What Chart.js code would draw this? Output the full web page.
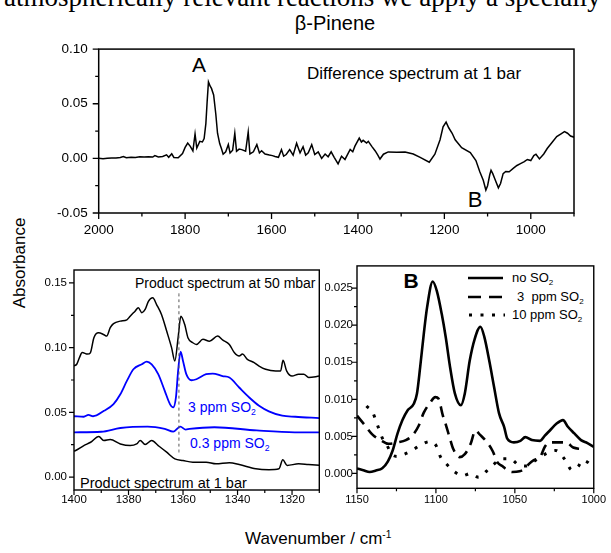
<!DOCTYPE html>
<html>
<head>
<meta charset="utf-8">
<script src="https://cdn.jsdelivr.net/npm/chart.js@4.4.1/dist/chart.umd.min.js"></script>
<style>
  html, body { margin: 0; padding: 0; background: #fff; }
  body { position: relative; width: 611px; height: 553px; overflow: hidden;
         font-family: "Liberation Sans", Arial, sans-serif; color: #000; }
  .lbl { position: absolute; white-space: nowrap; line-height: 1; }
  .c { transform: translate(-50%, -50%); }
  .l { transform: translateY(-50%); }
  .sub { font-size: 0.62em; position: relative; top: 0.38em; }
  .sup { font-size: 0.6em; position: relative; top: -0.6em; }
  .blue { color: #0000ff; }
  canvas { position: absolute; }
</style>
</head>
<body>
<div class="lbl" style="left:4px; top:-16px; font-family:'Liberation Serif',serif; font-size:27px; line-height:27px;">atmospherically relevant reactions we apply a specially</div>
<div class="lbl c" style="left:335px; top:23px; font-size:20px;">β-Pinene</div>
<div class="lbl c" style="left:199px; top:64px; font-size:21px;">A</div>
<div class="lbl l" style="left:307px; top:73px; font-size:17px;">Difference spectrum at 1 bar</div>
<div class="lbl c" style="left:475px; top:200px; font-size:22px;">B</div>

<div class="lbl c" style="left:19px; top:263px; font-size:17px; transform:translate(-50%,-50%) rotate(-90deg);">Absorbance</div>
<div class="lbl l" style="left:245px; top:538px; font-size:17px;">Wavenumber / cm<span class="sup">-1</span></div>

<div class="lbl l" style="left:135px; top:283px; font-size:14px;">Product spectrum at 50 mbar</div>
<div class="lbl l" style="left:80px; top:483px; font-size:14.5px;">Product spectrum at 1 bar</div>
<div class="lbl l blue" style="left:188px; top:407px; font-size:14px;">3 ppm SO<span class="sub">2</span></div>
<div class="lbl l blue" style="left:190px; top:443px; font-size:14px;">0.3 ppm SO<span class="sub">2</span></div>

<div class="lbl c" style="left:411px; top:280px; font-size:21px; font-weight:bold;">B</div>
<div class="lbl l" style="left:512px; top:278px; font-size:13px;">no SO<span class="sub">2</span></div>
<div class="lbl l" style="left:517px; top:297px; font-size:13px;">3&nbsp; ppm SO<span class="sub">2</span></div>
<div class="lbl l" style="left:512px; top:315px; font-size:13px;">10 ppm SO<span class="sub">2</span></div>

<canvas id="topChart" width="611" height="215" style="left:0; top:30px;"></canvas>
<canvas id="leftChart" width="330" height="265" style="left:0; top:255px;"></canvas>
<canvas id="rightChart" width="286" height="265" style="left:325px; top:255px;"></canvas>

<script>
// ---- top panel: difference spectrum at 1 bar ----
const diffWn = [2000, 1990, 1980, 1970, 1960, 1950, 1943, 1936, 1925, 1915, 1905, 1895, 1885, 1875, 1870, 1862,
  1852, 1843, 1838, 1831, 1826, 1816, 1806, 1800, 1794, 1788, 1782, 1777, 1773, 1766, 1760, 1756, 1752, 1749,
  1746, 1742, 1739, 1734, 1729, 1725, 1720, 1716, 1712, 1706, 1700, 1696, 1690, 1685, 1681, 1675, 1669, 1660,
  1654, 1650, 1642, 1634, 1628, 1623, 1615, 1605, 1598, 1592, 1584, 1577, 1572, 1566, 1558, 1550, 1542, 1534,
  1527, 1521, 1515, 1507, 1500, 1492, 1484, 1476, 1469, 1462, 1455, 1446, 1438, 1430, 1418, 1412, 1407, 1397,
  1392, 1388, 1380, 1376, 1368, 1360, 1354, 1349, 1341, 1330, 1310, 1291, 1272, 1256, 1235, 1222, 1210, 1203,
  1196, 1190, 1182, 1175, 1160, 1140, 1127, 1118, 1110, 1104, 1100, 1095, 1092, 1088, 1082, 1075, 1070, 1064,
  1058, 1050, 1040, 1032, 1025, 1015, 1008, 1000, 993, 988, 980, 970, 962, 950, 940, 930, 922, 915, 908, 900];
const diffAbs = [0.0000, -0.0003, 0.0002, 0.0004, 0.0003, 0.0008, 0.0016, 0.0005, 0.0010, 0.0008, 0.0014, 0.0012,
  0.0015, 0.0012, 0.0025, 0.0012, 0.0018, 0.0032, 0.0010, 0.0042, 0.0008, 0.0005, 0.0045, 0.0100, 0.0140, 0.0110,
  0.0068, 0.0223, 0.0095, 0.0156, 0.0150, 0.0182, 0.0318, 0.0520, 0.0700, 0.0660, 0.0640, 0.0580, 0.0406, 0.0230,
  0.0135, 0.0090, 0.0038, 0.0060, 0.0126, 0.0050, 0.0075, 0.0230, 0.0065, 0.0085, 0.0080, 0.0065, 0.0240, 0.0040,
  0.0060, 0.0126, 0.0050, 0.0070, 0.0040, 0.0030, 0.0025, 0.0017, 0.0010, 0.0080, 0.0020, 0.0035, 0.0080, 0.0030,
  0.0138, 0.0050, 0.0106, 0.0030, 0.0050, 0.0126, 0.0035, 0.0060, 0.0000, 0.0040, 0.0015, 0.0060, 0.0010, -0.0050,
  0.0020, -0.0010, 0.0082, 0.0060, 0.0112, 0.0185, 0.0150, 0.0165, 0.0140, 0.0156, 0.0110, 0.0068, 0.0030, -0.0006,
  0.0038, 0.0059, 0.0055, 0.0059, 0.0040, 0.0009, -0.0035, 0.0038, 0.0170, 0.0288, 0.0332, 0.0280, 0.0230, 0.0170,
  0.0097, 0.0053, -0.0020, -0.0123, -0.0200, -0.0290, -0.0250, -0.0150, -0.0109, -0.0140, -0.0200, -0.0270,
  -0.0230, -0.0140, -0.0120, -0.0123, -0.0090, -0.0065, -0.0050, -0.0030, -0.0010, -0.0020, 0.0025, 0.0038,
  -0.0005, 0.0040, 0.0090, 0.0150, 0.0200, 0.0225, 0.0244, 0.0230, 0.0205, 0.0194];
const topXMajor = [2000, 1800, 1600, 1400, 1200, 1000];
const topXMinor = [1900, 1700, 1500, 1300, 1100, 900];
const topYMajor = [-0.05, 0.00, 0.05, 0.10];
const topYMinor = [-0.025, 0.025, 0.075];

// ---- bottom left: product spectra, 1400-1310 cm-1 ----
const mbarWn = [1400, 1399, 1398, 1397, 1395, 1394, 1392.7, 1391, 1389, 1388, 1386.7, 1385.5, 1383, 1380.6, 1379.4,
  1377.6, 1376.4, 1375.1, 1373.9, 1372.7, 1371.1, 1369.7, 1367.9, 1366, 1364.2, 1363, 1361.8, 1360.8, 1359.4,
  1358.2, 1356.4, 1355.1, 1352.7, 1350.3, 1347.3, 1345.5, 1343, 1341.2, 1339.4, 1338.2, 1336.4, 1333.9, 1332.1,
  1329.7, 1326, 1324.2, 1323.3, 1322, 1320, 1317.6, 1315.7, 1313.9, 1310];
const mbarAbs = [0.0860, 0.0872, 0.0923, 0.0962, 0.0950, 0.0960, 0.1077, 0.1115, 0.1100, 0.1090, 0.1154, 0.1185,
  0.1205, 0.1215, 0.1243, 0.1282, 0.1308, 0.1270, 0.1295, 0.1358, 0.1385, 0.1333, 0.1256, 0.1128, 0.1000, 0.0897,
  0.1077, 0.1243, 0.1180, 0.1077, 0.1038, 0.1025, 0.1064, 0.1050, 0.1090, 0.1060, 0.1025, 0.0962, 0.0935, 0.0950,
  0.0910, 0.0885, 0.0858, 0.0833, 0.0820, 0.0820, 0.0902, 0.0820, 0.0780, 0.0795, 0.0795, 0.0770, 0.0780];
const so3Wn = [1400, 1396.4, 1394.7, 1393, 1389, 1385.5, 1383, 1380.6, 1378.2, 1375.1, 1373.3, 1371.5, 1369.1,
  1366.7, 1364.8, 1363.6, 1362.6, 1361.8, 1360.9, 1360, 1358.8, 1356.9, 1355.1, 1351.5, 1349.1, 1345.5, 1343,
  1339.4, 1335.7, 1332.1, 1328.5, 1323.6, 1318.8, 1310];
const so3Abs = [0.0470, 0.0466, 0.0480, 0.0470, 0.0512, 0.0564, 0.0640, 0.0743, 0.0833, 0.0872, 0.0892, 0.0870,
  0.0795, 0.0666, 0.0564, 0.0538, 0.0615, 0.0820, 0.0969, 0.0897, 0.0795, 0.0748, 0.0756, 0.0795, 0.0800, 0.0780,
  0.0769, 0.0692, 0.0615, 0.0551, 0.0508, 0.0474, 0.0466, 0.0456];
const so03Wn = [1400, 1390, 1383, 1373, 1366.7, 1363.6, 1361, 1359, 1357.6, 1348.5, 1333, 1319, 1310];
const so03Abs = [0.0346, 0.0350, 0.0379, 0.0390, 0.0372, 0.0351, 0.0390, 0.0367, 0.0372, 0.0385, 0.0360, 0.0346, 0.0346];
const barWn = [1400, 1399.4, 1396.4, 1393.9, 1390.9, 1389.1, 1386.7, 1383, 1379.4, 1377, 1375.7, 1373.9, 1371.5,
  1369.1, 1366, 1363, 1360, 1356.4, 1351.5, 1347.9, 1343, 1339.4, 1333.3, 1328.5, 1324.8, 1323.4, 1321.8, 1317.6,
  1314, 1310];
const barAbs = [0.0200, 0.0205, 0.0243, 0.0269, 0.0313, 0.0282, 0.0290, 0.0256, 0.0243, 0.0256, 0.0282, 0.0251,
  0.0282, 0.0243, 0.0192, 0.0141, 0.0128, 0.0115, 0.0115, 0.0102, 0.0110, 0.0097, 0.0064, 0.0057, 0.0064, 0.0133,
  0.0090, 0.0102, 0.0097, 0.0092];
const markerWn = 1361.5;
const markerAbs = [0.019, 0.143];
const leftXMajor = [1400, 1380, 1360, 1340, 1320];
const leftXMinor = [1390, 1370, 1350, 1330, 1310];
const leftYMajor = [0.00, 0.05, 0.10, 0.15];
const leftYMinor = [0.025, 0.075, 0.125];

// ---- bottom right (B): 1150-1000 cm-1 ----
const noWn = [1150, 1146, 1142, 1138, 1134, 1130.5, 1127.4, 1124.3, 1121.2, 1118, 1114, 1112, 1110, 1107.7, 1105.6,
  1102, 1099.4, 1096.3, 1093.8, 1091, 1088, 1084.2, 1081.7, 1078.6, 1075.5, 1071.8, 1069.3, 1066.2, 1063.1, 1060,
  1056.8, 1054.8, 1050.6, 1046.5, 1043.4, 1039.2, 1034, 1031, 1027.8, 1023.7, 1019.5, 1016.4, 1012.3, 1008.1,
  1004, 1000];
const noAbs = [0.00067, 0.00044, 0.0002, 0.0004, 0.0007, 0.0016, 0.0031, 0.0054, 0.0072, 0.0085, 0.0094, 0.0108,
  0.0143, 0.0188, 0.0224, 0.0259, 0.0246, 0.0215, 0.0184, 0.0143, 0.0108, 0.0092, 0.0108, 0.0152, 0.0181, 0.0198,
  0.0184, 0.0152, 0.0116, 0.0081, 0.0063, 0.0047, 0.0042, 0.0044, 0.0049, 0.0045, 0.0044, 0.0051, 0.0058, 0.0067,
  0.0072, 0.0063, 0.0054, 0.0045, 0.0041, 0.0036];
const ppm3Wn = [1150, 1145, 1140, 1135, 1130, 1124, 1119, 1115, 1111, 1107.7, 1103.5, 1100.4, 1098.4, 1095.6,
  1093.6, 1091.1, 1089, 1085, 1081.7, 1078, 1075, 1072, 1068, 1064, 1061, 1058, 1055, 1051.7, 1047, 1044, 1041,
  1038, 1034, 1031, 1028, 1023, 1017.5, 1013, 1008];
const ppm3Abs = [0.0078, 0.0065, 0.0052, 0.0045, 0.0040, 0.0042, 0.0045, 0.0051, 0.0064, 0.0082, 0.0096, 0.0103,
  0.0101, 0.0078, 0.0065, 0.0047, 0.0033, 0.0022, 0.0026, 0.0040, 0.0058, 0.0052, 0.0043, 0.0030, 0.0015, 0.0010,
  0.0005, 0.0002, 0.0003, 0.0006, 0.0013, 0.0018, 0.0022, 0.0036, 0.0042, 0.0042, 0.0042, 0.0035, 0.0033];
const ppm10Wn = [1144, 1140, 1137, 1134, 1131, 1128, 1124, 1120, 1116, 1110, 1104, 1100, 1097, 1093, 1088, 1083,
  1078, 1073, 1068, 1063, 1058, 1053, 1048, 1043, 1038, 1034, 1029, 1024, 1018, 1014, 1010, 1007, 1001];
const ppm10Abs = [0.0091, 0.0082, 0.0065, 0.0048, 0.0038, 0.0026, 0.0023, 0.0026, 0.0030, 0.0038, 0.0043, 0.0038,
  0.0022, 0.0012, 0.0002, -0.0003, 0.0000, -0.0005, 0.0003, 0.0013, 0.0020, 0.0020, 0.0012, 0.0010, 0.0016,
  0.0022, 0.0028, 0.0031, 0.0018, 0.0005, 0.0009, 0.0018, 0.0011];
const rightXMajor = [1150, 1100, 1050, 1000];
const rightXMinor = [1125, 1075, 1025];
const rightYMajor = [0.000, 0.005, 0.010, 0.015, 0.020, 0.025];
const rightYMinor = [0.0025, 0.0075, 0.0125, 0.0175, 0.0225];

const FONT = '"Liberation Sans", Arial, sans-serif';
const BLUE = '#0000ff';

function pts(xs, ys) {
  return xs.map((x, i) => ({ x, y: ys[i] }));
}

// Frame box around the plot area plus outward major/minor tick marks.
const frameTicks = {
  id: 'frameTicks',
  afterDraw(chart, _args, o) {
    const { ctx, chartArea: a, scales: { x, y } } = chart;
    ctx.save();
    ctx.strokeStyle = '#000';
    ctx.lineWidth = o.tickWidth;
    ctx.beginPath();
    const tickX = (vals, len) => vals.forEach((v) => {
      const p = x.getPixelForValue(v);
      ctx.moveTo(p, a.bottom); ctx.lineTo(p, a.bottom + len);
    });
    const tickY = (vals, len) => vals.forEach((v) => {
      const p = y.getPixelForValue(v);
      ctx.moveTo(a.left, p); ctx.lineTo(a.left - len, p);
    });
    tickX(o.xMajor, o.major); tickX(o.xMinor, o.minor);
    tickY(o.yMajor, o.major); tickY(o.yMinor, o.minor);
    ctx.stroke();
    ctx.lineWidth = o.frameWidth;
    ctx.strokeRect(a.left, a.top, a.right - a.left, a.bottom - a.top);
    ctx.restore();
  },
};

// Hand-drawn legend samples for panel B.
const legendLines = {
  id: 'legendLines',
  afterDraw(chart) {
    const { ctx } = chart;
    ctx.save();
    ctx.strokeStyle = '#000';
    ctx.lineWidth = 2.6;
    ctx.beginPath(); ctx.moveTo(143, 23); ctx.lineTo(178, 23); ctx.stroke();
    ctx.setLineDash([13, 8]);
    ctx.beginPath(); ctx.moveTo(143, 42); ctx.lineTo(178, 42); ctx.stroke();
    ctx.setLineDash([3, 8.5]);
    ctx.lineWidth = 3;
    ctx.beginPath(); ctx.moveTo(144, 60); ctx.lineTo(180, 60); ctx.stroke();
    ctx.restore();
  },
};

function axis({ min, max, reverse, ticks, digits, size, padding, fit }) {
  return {
    type: 'linear', min, max, reverse: !!reverse,
    grid: { display: false, drawTicks: false },
    border: { display: false },
    afterBuildTicks: (s) => { s.ticks = ticks.map((v) => ({ value: v })); },
    afterFit: fit,
    ticks: {
      font: { family: FONT, size }, color: '#000', padding, maxRotation: 0, autoSkip: false,
      callback: (v) => (digits == null ? String(v) : Number(v).toFixed(digits)),
    },
  };
}

function line(data, color, width, dash) {
  return {
    data, borderColor: color, borderWidth: width, borderDash: dash || [],
    pointRadius: 0, fill: false, tension: 0, cubicInterpolationMode: 'monotone',
  };
}

function baseOptions(padding, scales, frame) {
  return {
    responsive: false, animation: false, events: [],
    layout: { padding },
    plugins: { legend: { display: false }, tooltip: { enabled: false }, title: { display: false }, frameTicks: frame },
    scales,
  };
}

new Chart(document.getElementById('topChart'), {
  type: 'line',
  data: { datasets: [{ ...line(pts(diffWn, diffAbs), '#000', 1.5), cubicInterpolationMode: 'default' }] },
  options: baseOptions({ left: 0, top: 13, right: 37, bottom: 0 }, {
    x: axis({ min: 900, max: 2000, reverse: true, ticks: topXMajor, size: 13.5, padding: 9,
      fit: (s) => { s.height = 32; } }),
    y: axis({ min: -0.05, max: 0.10, ticks: topYMajor, digits: 2, size: 13.5, padding: 11,
      fit: (s) => { s.width = 98.7; } }),
  }, { xMajor: topXMajor, xMinor: topXMinor, yMajor: topYMajor, yMinor: topYMinor,
    major: 6, minor: 3.5, tickWidth: 1.3, frameWidth: 1.5 }),
  plugins: [frameTicks],
});

new Chart(document.getElementById('leftChart'), {
  type: 'line',
  data: { datasets: [
    line(pts([markerWn, markerWn], markerAbs), '#555', 1, [3, 3]),
    line(pts(mbarWn, mbarAbs), '#000', 1.5),
    line(pts(so3Wn, so3Abs), BLUE, 1.8),
    line(pts(so03Wn, so03Abs), BLUE, 1.8),
    line(pts(barWn, barAbs), '#000', 1.5),
  ] },
  options: baseOptions({ left: 0, top: 15, right: 10.7, bottom: 0 }, {
    x: axis({ min: 1310, max: 1400, reverse: true, ticks: leftXMajor, size: 11.5, padding: 3,
      fit: (s) => { s.height = 30; } }),
    y: axis({ min: -0.01, max: 0.16, ticks: leftYMajor, digits: 2, size: 11.5, padding: 7,
      fit: (s) => { s.width = 74; } }),
  }, { xMajor: leftXMajor, xMinor: leftXMinor, yMajor: leftYMajor, yMinor: leftYMinor,
    major: 5, minor: 3, tickWidth: 1.2, frameWidth: 1.4 }),
  plugins: [frameTicks],
});

new Chart(document.getElementById('rightChart'), {
  type: 'line',
  data: { datasets: [
    line(pts(noWn, noAbs), '#000', 2.6),
    line(pts(ppm3Wn, ppm3Abs), '#000', 2.6, [11, 7]),
    line(pts(ppm10Wn, ppm10Abs), '#000', 3, [3, 8.5]),
  ] },
  options: baseOptions({ left: 0, top: 10, right: 13, bottom: 0 }, {
    x: axis({ min: 1000, max: 1150, reverse: true, ticks: rightXMajor, size: 11, padding: 5,
      fit: (s) => { s.height = 31.7; } }),
    y: axis({ min: -0.002, max: 0.028, ticks: rightYMajor, digits: 3, size: 11.5, padding: 4,
      fit: (s) => { s.width = 32; } }),
  }, { xMajor: rightXMajor, xMinor: rightXMinor, yMajor: rightYMajor, yMinor: rightYMinor,
    major: 5, minor: 3, tickWidth: 1.2, frameWidth: 1.4 }),
  plugins: [frameTicks, legendLines],
});
</script>
</body>
</html>
